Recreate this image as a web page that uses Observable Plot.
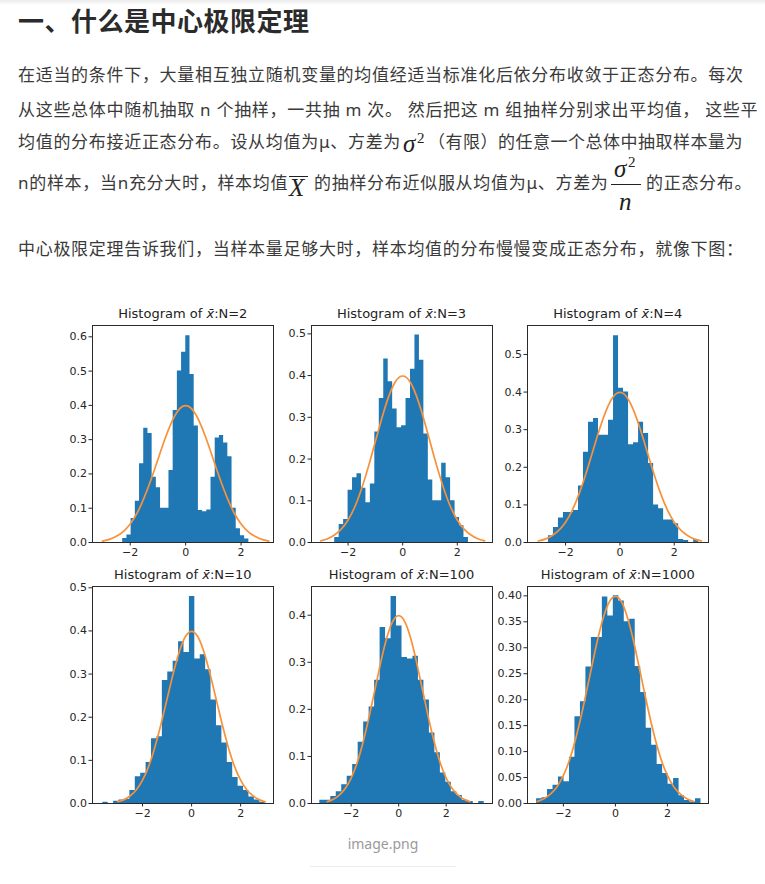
<!DOCTYPE html>
<html>
<head>
<meta charset="utf-8">
<script src="https://cdn.jsdelivr.net/npm/d3@7"></script>
<script src="https://cdn.jsdelivr.net/npm/@observablehq/plot@0.6"></script>
<style>
html,body{margin:0;padding:0;background:#fff;}
body{width:765px;height:884px;position:relative;overflow:hidden;font-family:"Noto Sans","Noto Sans CJK SC",sans-serif;color:#3a3a3a;}
.abs{position:absolute;white-space:nowrap;}
.topband{left:0;top:0;width:765px;height:5px;background:linear-gradient(#ececec,#fff);}
.h1{left:18px;top:3px;font-size:26px;font-weight:700;line-height:34px;letter-spacing:0.5px;color:#2b2b2b;font-family:"Noto Sans CJK SC",sans-serif;}
.ln{font-size:17px;line-height:24px;letter-spacing:0.7px;}
.mi{font-family:"Liberation Serif",serif;font-style:italic;font-size:25px;line-height:24px;color:#222;}
.sup{font-family:"Liberation Serif",serif;font-size:15px;line-height:15px;color:#222;}
.bar{background:#222;height:1.3px;}
.ttl{font-family:"DejaVu Sans",sans-serif;font-size:13px;line-height:15px;color:#222;transform:translateX(-50%);}
.cap{font-size:14px;line-height:20px;color:#9a9a9a;transform:translateX(-50%);}
.rule{background:#ececec;height:1px;}
</style>
</head>
<body>
<div class="abs topband"></div>
<div class="abs h1">一、什么是中心极限定理</div>

<div class="abs ln" style="left:18px;top:63px;">在适当的条件下，大量相互独立随机变量的均值经适当标准化后依分布收敛于正态分布。每次</div>
<div class="abs ln" style="left:18px;top:98px;">从这些总体中随机抽取 n 个抽样，一共抽 m 次。 然后把这 m 组抽样分别求出平均值， 这些平</div>

<div class="abs ln" style="left:18px;top:130px;">均值的分布接近正态分布。设从均值为μ、方差为</div>
<div class="abs mi" style="left:403px;top:132px;">σ</div>
<div class="abs sup" style="left:417px;top:131px;">2</div>
<div class="abs ln" style="left:428px;top:130px;letter-spacing:0.5px;">（有限）的任意一个总体中抽取样本量为</div>

<div class="abs ln" style="left:18px;top:171px;">n的样本，当n充分大时，样本均值</div>
<div class="abs mi" style="left:289px;top:176px;">X</div>
<div class="abs bar" style="left:289px;top:176px;width:19px;"></div>
<div class="abs ln" style="left:314px;top:171px;">的抽样分布近似服从均值为μ、方差为</div>
<div class="abs mi" style="left:614px;top:157px;">σ</div>
<div class="abs sup" style="left:628px;top:155px;">2</div>
<div class="abs bar" style="left:611px;top:183.5px;width:30px;"></div>
<div class="abs mi" style="left:619px;top:190px;">n</div>
<div class="abs ln" style="left:646px;top:171px;">的正态分布。</div>

<div class="abs ln" style="left:18px;top:237px;">中心极限定理告诉我们，当样本量足够大时，样本均值的分布慢慢变成正态分布，就像下图：</div>

<div id="charts"></div>

<div class="abs cap" style="left:383px;top:834px;">image.png</div>
<div class="abs rule" style="left:310px;top:866px;width:146px;"></div>

<script>
// ---- data ----
const panelN = [2, 3, 4, 10, 100, 1000];
const binStart = [-2.27, -2.49, -2.63, -3.62, -3.32, -3.03];
const binWidth = [0.1517, 0.1633, 0.1843, 0.2207, 0.2307, 0.2107];

const hN2 = [0.012, 0.022, 0.07, 0.12, 0.23, 0.333, 0.318, 0.19, 0.16, 0.10, 0.10, 0.21, 0.385, 0.5, 0.555, 0.603, 0.49, 0.34, 0.093, 0.09, 0.095, 0.19, 0.305, 0.312, 0.29, 0.25, 0.10, 0.04, 0.02, 0.01];
const hN3 = [0.012, 0.043, 0.055, 0.125, 0.155, 0.165, 0.13, 0.095, 0.14, 0.265, 0.345, 0.44, 0.385, 0.32, 0.275, 0.28, 0.345, 0.415, 0.497, 0.437, 0.26, 0.15, 0.10, 0.10, 0.19, 0.155, 0.10, 0.06, 0.04, 0.012];
const hN4 = [0.018, 0.04, 0.065, 0.08, 0.08, 0.085, 0.15, 0.24, 0.32, 0.33, 0.285, 0.285, 0.325, 0.55, 0.41, 0.40, 0.26, 0.265, 0.32, 0.29, 0.21, 0.10, 0.09, 0.06, 0.06, 0.05, 0.008, 0.005, 0.0, 0.008];
const hN10 = [0.003, 0.0, 0.005, 0.008, 0.01, 0.03, 0.062, 0.07, 0.095, 0.15, 0.155, 0.285, 0.305, 0.33, 0.375, 0.35, 0.48, 0.335, 0.345, 0.31, 0.24, 0.18, 0.14, 0.095, 0.06, 0.04, 0.03, 0.015, 0.008, 0.003];
const hN100 = [0.007, 0.007, 0.015, 0.025, 0.04, 0.058, 0.083, 0.13, 0.173, 0.205, 0.262, 0.374, 0.35, 0.44, 0.377, 0.31, 0.307, 0.313, 0.262, 0.22, 0.15, 0.108, 0.065, 0.045, 0.025, 0.017, 0.007, 0.004, 0.0, 0.004];
const hN1000 = [0.009, 0.011, 0.027, 0.035, 0.051, 0.042, 0.089, 0.167, 0.196, 0.263, 0.32, 0.32, 0.398, 0.361, 0.40, 0.39, 0.35, 0.355, 0.264, 0.214, 0.145, 0.112, 0.075, 0.058, 0.037, 0.048, 0.015, 0.006, 0.003, 0.009];

const curveX = [-3, -2.75, -2.5, -2.25, -2, -1.75, -1.5, -1.25, -1, -0.75, -0.5, -0.25, 0, 0.25, 0.5, 0.75, 1, 1.25, 1.5, 1.75, 2, 2.25, 2.5, 2.75, 3];
const curveY = [0.004, 0.009, 0.018, 0.032, 0.054, 0.086, 0.13, 0.183, 0.242, 0.301, 0.352, 0.387, 0.399, 0.387, 0.352, 0.301, 0.242, 0.183, 0.13, 0.086, 0.054, 0.032, 0.018, 0.009, 0.004];

const xTicks = [-2, 0, 2];
const yTicksA = [0, 0.1, 0.2, 0.3, 0.4, 0.5, 0.6];
const yTicksB = [0, 0.1, 0.2, 0.3, 0.4, 0.5];
const yTicksC = [0, 0.1, 0.2, 0.3, 0.4];
const yTicksD = [0, 0.05, 0.10, 0.15, 0.20, 0.25, 0.30, 0.35, 0.40];

// ---- layout ----
const heights = [hN2, hN3, hN4, hN10, hN100, hN1000];
const yTicks = [yTicksA, yTicksB, yTicksB, yTicksB, yTicksC, yTicksD];
const yFmt = [".1f", ".1f", ".1f", ".1f", ".1f", ".2f"];
const xDom = [[-3.36, 3.17], [-3.34, 3.29], [-3.40, 3.26], [-4.04, 3.34], [-3.67, 3.95], [-3.38, 3.58]];
const yMax = [0.633, 0.52, 0.577, 0.503, 0.461, 0.418];
const plotL = [92.3, 311, 527.3, 92.3, 311, 527.3];
const plotT = [325, 325, 325, 586, 586, 586];
const PW = 181, PH = 217;
const mL = 40, mR = 6, mT = 6, mB = 24;

const curve = curveX.map((x, i) => ({x, y: curveY[i]}));
const minus = d => (d < 0 ? "\u2212" + Math.abs(d) : String(d));
const host = document.getElementById("charts");

panelN.forEach((n, p) => {
  const h = heights[p];
  // histogram outline as step points over the bin edges (seamless bars)
  const steps = d3.range(h.length + 1).map(i => ({
    x: binStart[p] + i * binWidth[p],
    y: h[Math.min(i, h.length - 1)]
  }));
  const svg = Plot.plot({
    width: PW + mL + mR,
    height: PH + mT + mB,
    marginLeft: mL, marginRight: mR, marginTop: mT, marginBottom: mB,
    style: {background: "transparent", overflow: "visible", fontFamily: "DejaVu Sans", fontSize: "11px", color: "#262626"},
    x: {domain: xDom[p], ticks: xTicks, tickFormat: minus, tickSize: 3.5, tickPadding: 2, label: null},
    y: {domain: [0, yMax[p]], ticks: yTicks[p], tickFormat: d3.format(yFmt[p]), tickSize: 3.5, tickPadding: 2, label: null},
    marks: [
      Plot.areaY(steps, {x: "x", y: "y", curve: "step-after", fill: "#1f77b4"}),
      Plot.line(curve, {x: "x", y: "y", stroke: "#f7923a", strokeWidth: 1.7, curve: "natural"}),
      Plot.frame({stroke: "#2a2a2a", strokeWidth: 1})
    ]
  });
  const wrap = document.createElement("div");
  wrap.className = "abs";
  wrap.style.left = (plotL[p] - mL) + "px";
  wrap.style.top = (plotT[p] - mT) + "px";
  wrap.appendChild(svg);
  host.appendChild(wrap);

  const t = document.createElement("div");
  t.className = "abs ttl";
  t.style.left = (plotL[p] + PW / 2) + "px";
  t.style.top = (plotT[p] < 400 ? 305.5 : 566.5) + "px";
  t.innerHTML = 'Histogram of <span style="font-style:italic">x\u0304</span>:N=' + n;
  host.appendChild(t);
});
</script>
</body>
</html>
